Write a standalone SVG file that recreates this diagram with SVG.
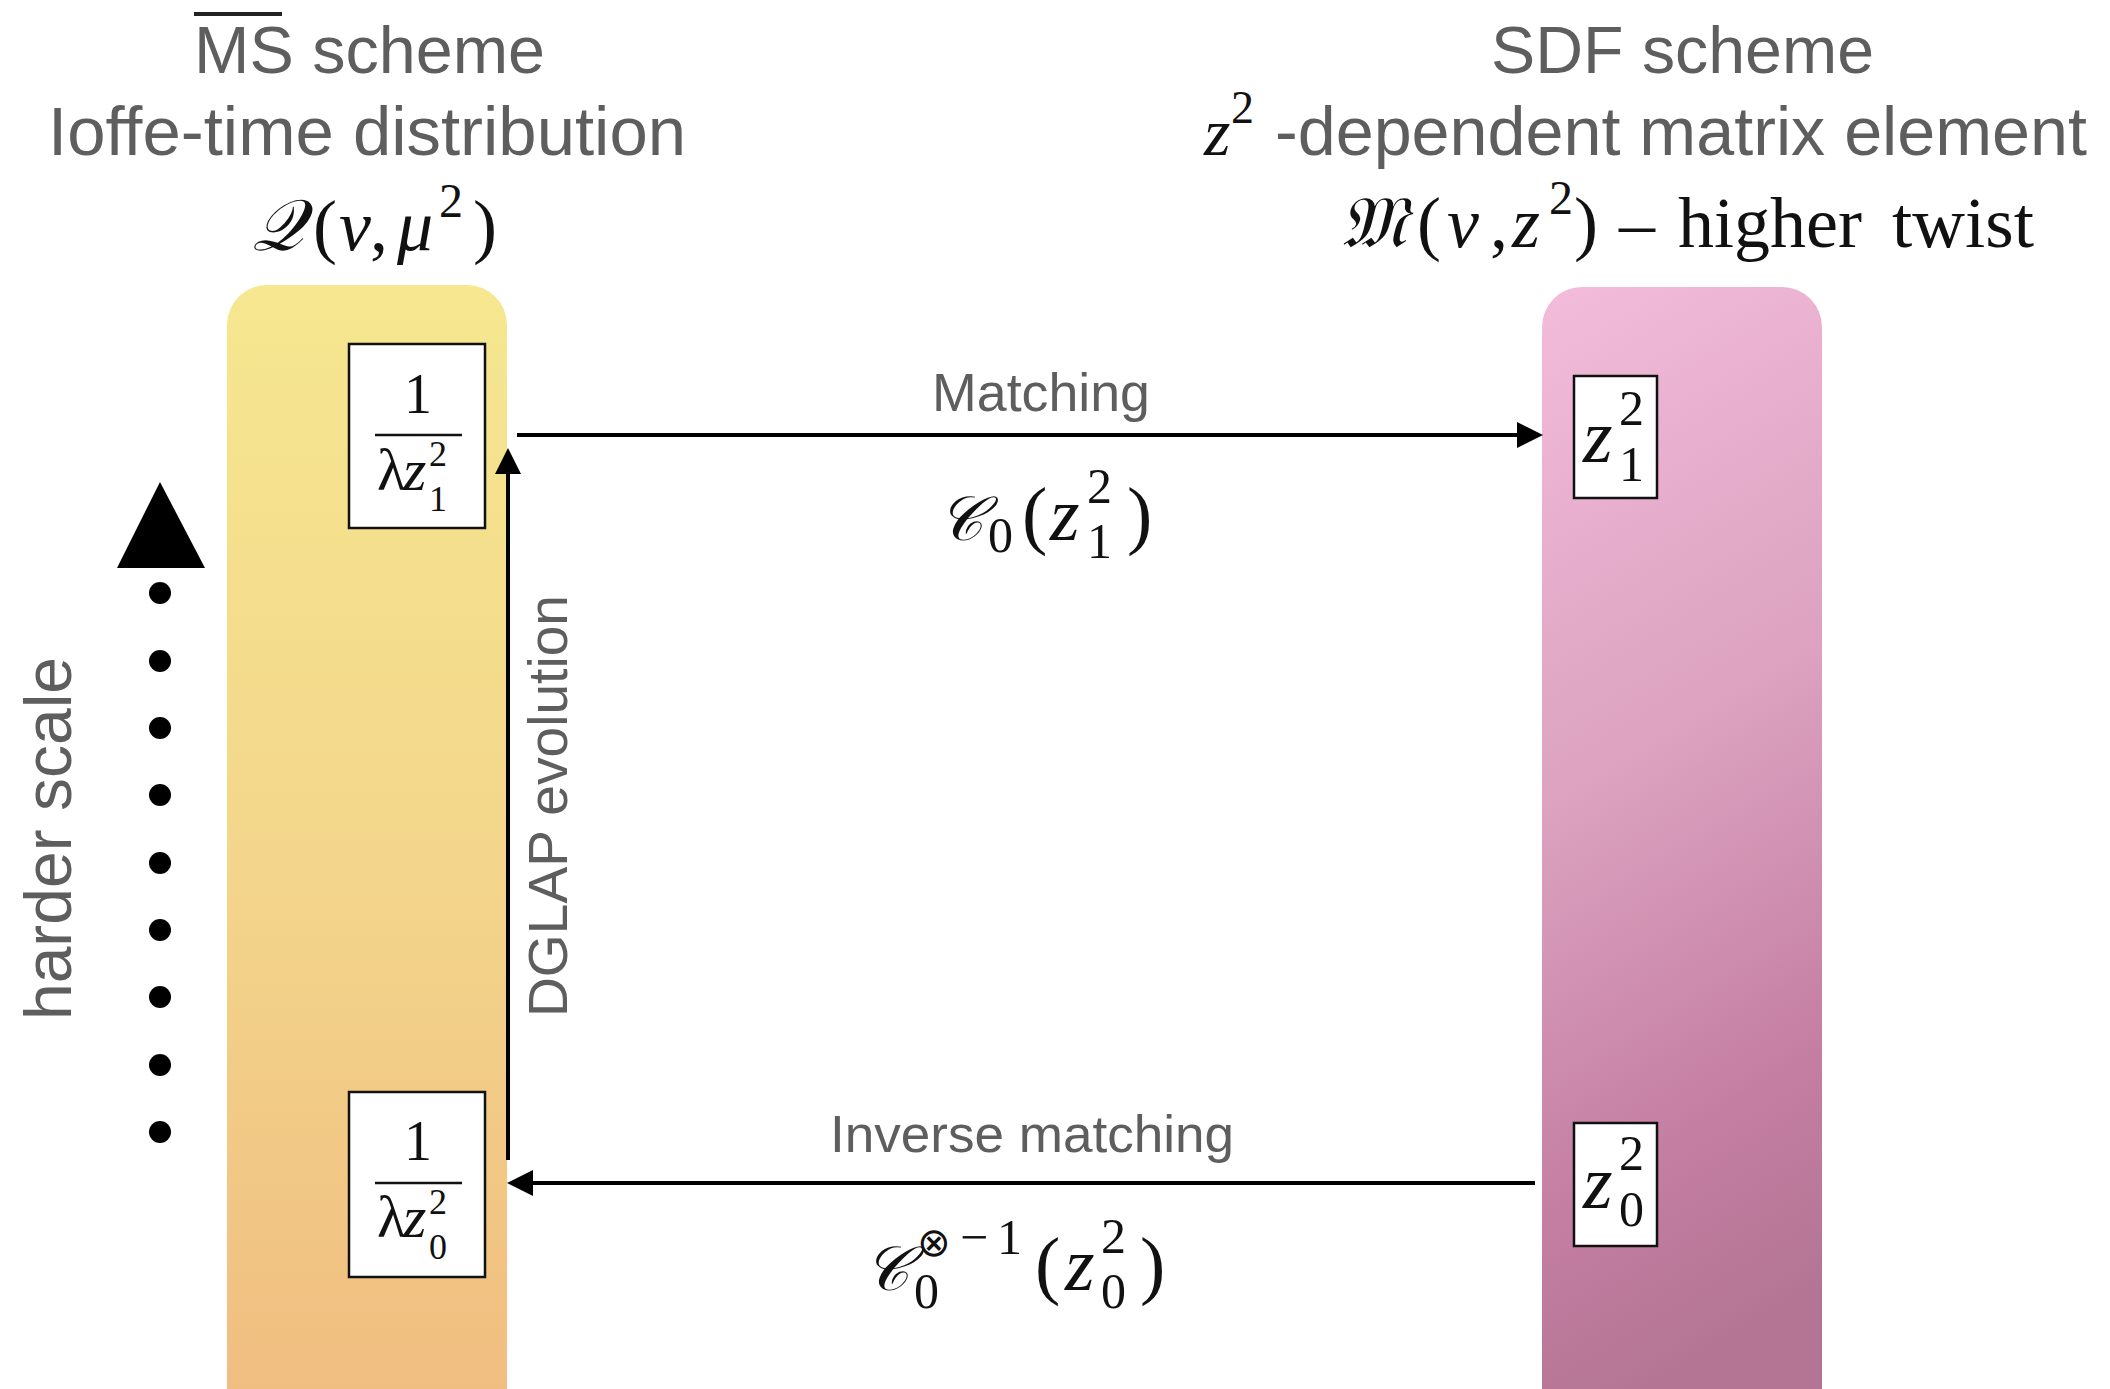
<svg xmlns="http://www.w3.org/2000/svg" width="2110" height="1389" viewBox="0 0 2110 1389">
<defs>
<linearGradient id="gLeft" x1="0" y1="0" x2="0" y2="1">
<stop offset="0" stop-color="#F6E790"/>
<stop offset="0.5" stop-color="#F3D68B"/>
<stop offset="1" stop-color="#F0BC80"/>
</linearGradient>
<linearGradient id="gRight" x1="0" y1="0" x2="0.15" y2="1">
<stop offset="0" stop-color="#F2BCDA"/>
<stop offset="0.45" stop-color="#DCA2C0"/>
<stop offset="0.8" stop-color="#C47EA2"/>
<stop offset="1" stop-color="#B47594"/>
</linearGradient>
<marker id="ah" viewBox="0 0 26 26" refX="16" refY="13" markerWidth="26" markerHeight="26" markerUnits="userSpaceOnUse" orient="auto">
<path d="M0,0 L26,13 L0,26 Z" fill="#000"/>
</marker>
<style>
.t{font-family:"Liberation Sans",Arial,sans-serif;fill:#5e5e5e}
.m{font-family:"Liberation Serif","DejaVu Serif",serif;fill:#111}
.i{font-style:italic}
.sc{font-family:"DejaVu Serif","DejaVu Sans","Liberation Serif",serif;font-style:italic}
.box{fill:#fff;stroke:#111;stroke-width:2.5}
.conn{stroke:#000;stroke-width:4;fill:none}
</style>
</defs>
<rect width="2110" height="1389" fill="#fff"/>

<g id="col-msbar">
<rect x="227" y="285" width="280" height="1145" rx="40" fill="url(#gLeft)"/>
<line x1="194" y1="14" x2="282" y2="14" stroke="#222" stroke-width="4"/>
<text class="t" x="194" y="73" font-size="67" textLength="351" lengthAdjust="spacingAndGlyphs">MS scheme</text>
<text class="t" x="48" y="155" font-size="68" textLength="638" lengthAdjust="spacingAndGlyphs">Ioffe-time distribution</text>
<text class="m" y="250" font-size="72"><tspan class="sc" x="252">𝒬</tspan><tspan x="313">(</tspan><tspan class="i" x="339">ν</tspan><tspan x="370">,</tspan><tspan class="i" x="397">μ</tspan><tspan x="439" y="217" font-size="48">2</tspan><tspan x="473" y="250">)</tspan></text>
</g>

<g id="col-sdf">
<rect x="1542" y="287" width="280" height="1143" rx="40" fill="url(#gRight)"/>
<text class="t" x="1491" y="73" font-size="66" textLength="383" lengthAdjust="spacingAndGlyphs">SDF scheme</text>
<text class="m i" x="1204" y="155" font-size="68">z</text>
<text class="m" x="1231" y="123" font-size="46">2</text>
<text class="t" x="1275" y="155" font-size="68" textLength="812" lengthAdjust="spacingAndGlyphs">-dependent matrix element</text>
<text class="m" y="247" font-size="72"><tspan class="sc" x="1340">𝔐</tspan><tspan x="1417">(</tspan><tspan class="i" x="1447">ν</tspan><tspan x="1490">,</tspan><tspan class="i" x="1512">z</tspan><tspan x="1549" y="214" font-size="48">2</tspan><tspan x="1574" y="247">)</tspan><tspan x="1619">–</tspan><tspan x="1678" textLength="184" lengthAdjust="spacingAndGlyphs">higher</tspan><tspan x="1892" textLength="142" lengthAdjust="spacingAndGlyphs">twist</tspan></text>
</g>

<g id="scale-axis">
<polygon points="160,482 205,568 117,568" fill="#000"/>
<g fill="#000">
<circle cx="160" cy="593" r="11"/>
<circle cx="160" cy="661" r="11"/>
<circle cx="160" cy="728" r="11"/>
<circle cx="160" cy="795" r="11"/>
<circle cx="160" cy="863" r="11"/>
<circle cx="160" cy="930" r="11"/>
<circle cx="160" cy="997" r="11"/>
<circle cx="160" cy="1065" r="11"/>
<circle cx="160" cy="1132" r="11"/>
</g>
<text class="t" transform="translate(71,1020) rotate(-90)" font-size="66" textLength="363" lengthAdjust="spacingAndGlyphs">harder scale</text>
</g>

<g id="node-mu1">
<rect class="box" x="349" y="344" width="136" height="184"/>
<text class="m" x="418" y="413" font-size="56" text-anchor="middle">1</text>
<line x1="375" y1="435" x2="462" y2="435" stroke="#111" stroke-width="2.5"/>
<text class="m" y="490" font-size="60"><tspan x="377">λ</tspan><tspan class="i" x="403">z</tspan></text>
<text class="m" x="429" y="466" font-size="36">2</text>
<text class="m" x="429" y="511" font-size="36">1</text>
</g>

<g id="node-mu0">
<rect class="box" x="349" y="1092" width="136" height="185"/>
<text class="m" x="418" y="1160" font-size="56" text-anchor="middle">1</text>
<line x1="375" y1="1183" x2="462" y2="1183" stroke="#111" stroke-width="2.5"/>
<text class="m" y="1237" font-size="60"><tspan x="377">λ</tspan><tspan class="i" x="403">z</tspan></text>
<text class="m" x="429" y="1214" font-size="36">2</text>
<text class="m" x="429" y="1259" font-size="36">0</text>
</g>

<g id="node-z1">
<rect class="box" x="1574" y="376" width="83" height="122"/>
<text class="m i" x="1583" y="462" font-size="76">z</text>
<text class="m" x="1619" y="425" font-size="50">2</text>
<text class="m" x="1619" y="481" font-size="50">1</text>
</g>

<g id="node-z0">
<rect class="box" x="1574" y="1123" width="83" height="123"/>
<text class="m i" x="1583" y="1208" font-size="76">z</text>
<text class="m" x="1619" y="1170" font-size="50">2</text>
<text class="m" x="1619" y="1226" font-size="50">0</text>
</g>

<g id="connectors">
<line class="conn" x1="517" y1="435" x2="1533" y2="435" marker-end="url(#ah)"/>
<line class="conn" x1="1535" y1="1183" x2="517" y2="1183" marker-end="url(#ah)"/>
<line class="conn" x1="508" y1="1160" x2="508" y2="458" marker-end="url(#ah)"/>
<text class="t" x="932" y="411" font-size="53" textLength="218" lengthAdjust="spacingAndGlyphs">Matching</text>
<text class="m" y="540" font-size="76"><tspan class="sc" x="938" font-size="62">𝒞</tspan><tspan x="988" y="552" font-size="50">0</tspan><tspan x="1022" y="540">(</tspan><tspan class="i" x="1050">z</tspan><tspan x="1087" y="503" font-size="50">2</tspan><tspan x="1087" y="558" font-size="50">1</tspan><tspan x="1127" y="540">)</tspan></text>
<text class="t" x="830" y="1152" font-size="52" textLength="404" lengthAdjust="spacingAndGlyphs">Inverse matching</text>
<text class="m" y="1290" font-size="76"><tspan class="sc" x="864" font-size="62">𝒞</tspan><tspan x="914" y="1308" font-size="50">0</tspan><tspan x="917" y="1256" font-size="40" font-family="DejaVu Sans">⊗</tspan><tspan x="960" y="1254" font-size="50">−</tspan><tspan x="997" y="1254" font-size="50">1</tspan><tspan x="1035" y="1290">(</tspan><tspan class="i" x="1065">z</tspan><tspan x="1101" y="1253" font-size="50">2</tspan><tspan x="1101" y="1308" font-size="50">0</tspan><tspan x="1140" y="1290">)</tspan></text>
<text class="t" transform="translate(567,1017) rotate(-90)" font-size="56" textLength="422" lengthAdjust="spacingAndGlyphs">DGLAP evolution</text>
</g>
</svg>
